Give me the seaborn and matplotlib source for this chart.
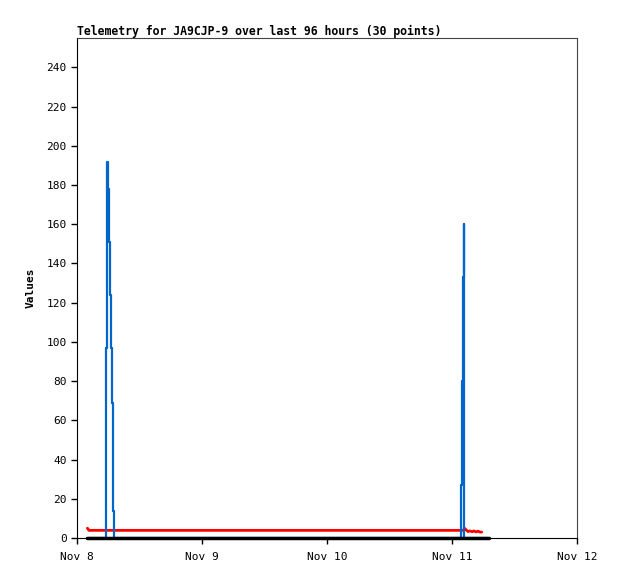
import matplotlib
matplotlib.use('Agg')
import matplotlib.pyplot as plt
import matplotlib.dates as mdates
import numpy as np
import pandas as pd
import seaborn as sns

# hours after Nov 8 00:00 for each telemetry point
horas = [2.0, 2.3, 5.47, 5.57, 5.7, 5.95, 6.14, 6.34, 6.53, 6.72,
         6.85, 6.97, 7.1, 73.5, 73.67, 73.86, 74.05, 74.25, 74.37, 74.7,
         75.07, 75.46, 75.84, 76.2, 76.6, 77.0, 77.4, 77.7, 78.4, 79.1]
azul = [0, 0, 0, 97, 192, 178, 151, 124, 97, 69,
        41, 14, 0, 0, 27, 80, 133, 160, 0, 0,
        0, 0, 0, 0, 0, 0, 0, 0, 0, 0]
rojo = [5.0, 3.9, 3.9, 3.9, 3.9, 3.9, 3.9, 3.9, 3.9, 3.9,
        3.9, 3.9, 3.9, 3.9, 3.9, 3.9, 3.9, 3.9, 5.0, 4.2,
        3.3, 3.6, 3.2, 3.6, 3.1, 3.5, 3.0, 3.0, np.nan, np.nan]
negro = [0] * 30

inicio = pd.Timestamp('2023-11-08')
tiempos = [inicio + pd.Timedelta(hours=h) for h in horas]
datos = pd.DataFrame({'tiempo': tiempos, 'azul': azul, 'rojo': rojo, 'negro': negro})

sns.set_style('ticks')
plt.rcParams['font.family'] = ['DejaVu Sans Mono']
plt.rcParams['text.color'] = 'black'
plt.rcParams['axes.labelcolor'] = 'black'

fig = plt.figure(figsize=(6.18, 5.79), dpi=100)
ax = fig.add_axes([77 / 618, 41 / 579, 500 / 618, 500 / 579])

sns.lineplot(data=datos, x='tiempo', y='rojo', color='#ff0000', linewidth=2, ax=ax)
sns.lineplot(data=datos, x='tiempo', y='azul', color='#0066cc', linewidth=1.6,
             drawstyle='steps-post', ax=ax)
sns.lineplot(data=datos, x='tiempo', y='negro', color='black', linewidth=2.5, ax=ax, clip_on=False)

ax.set_xlim(inicio, inicio + pd.Timedelta(days=4))
ax.set_ylim(0, 255)
ax.set_yticks(range(0, 241, 20))
ax.xaxis.set_major_locator(mdates.DayLocator())
ax.xaxis.set_major_formatter(mdates.DateFormatter('%b %-d'))

ax.tick_params(axis='both', direction='out', length=4, width=1, colors='black', labelsize=8)
ax.tick_params(axis='x', pad=6)
for lado in ['left', 'bottom']:
    ax.spines[lado].set_color('black')
for lado in ['top', 'right']:
    ax.spines[lado].set_color('#444444')

ax.set_xlabel('')
ax.set_ylabel('Values', fontsize=8, fontweight='bold', labelpad=8)
ax.set_title('Telemetry for JA9CJP-9 over last 96 hours (30 points)',
             fontsize=8.3, fontweight='bold', loc='left', pad=2, color='black')

fig.savefig('out.png', dpi=100)
